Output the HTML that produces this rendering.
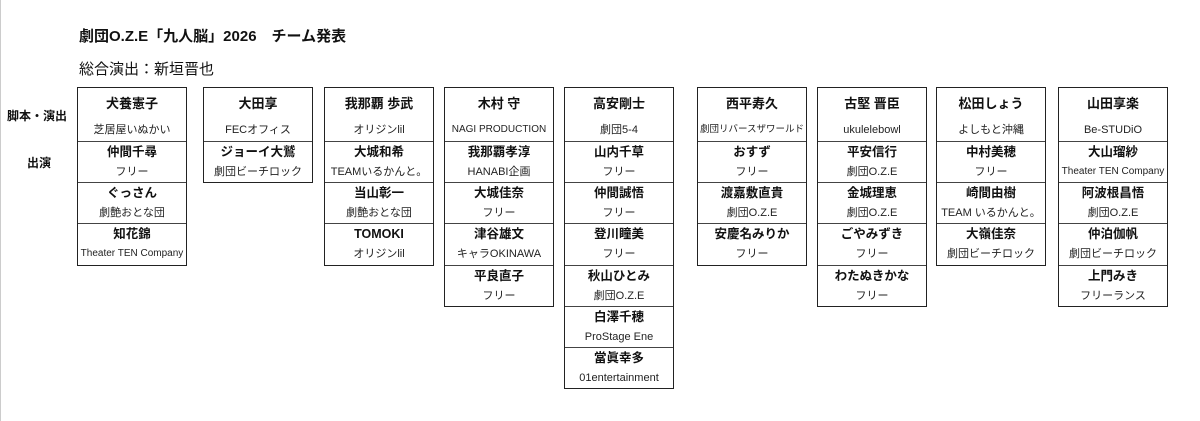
<!DOCTYPE html>
<html><head><meta charset="utf-8"><style>
body{margin:0;width:1200px;height:421px;background:#fff;position:relative;overflow:hidden;font-family:"Liberation Sans","Noto Sans CJK JP",sans-serif;color:#111;}
.edge{position:absolute;left:0;top:0;width:1px;height:421px;background:#ccc;}
.t{position:absolute;left:79px;top:25px;font-size:15px;font-weight:bold;}
.s{position:absolute;left:79px;top:58px;font-size:15px;}
.l{position:absolute;font-size:12px;font-weight:bold;}
.b{position:absolute;top:87px;width:108px;border:1.5px solid #222;box-sizing:content-box;}
.h{height:53px;position:relative;border-bottom:1px solid #444;}
.r{height:40.2px;position:relative;border-bottom:1px solid #444;}
.r:last-child{border-bottom:none;}
.n{position:absolute;left:0;right:0;text-align:center;font-weight:bold;font-size:12.5px;white-space:nowrap;line-height:16px;}
.a{position:absolute;left:0;right:0;text-align:center;font-size:11px;color:#222;white-space:nowrap;line-height:16px;}
.h .n{top:8px;font-size:13px;}
.h .a{top:34px;}
.r .n{top:2px;}
.r .a{top:22px;}
</style></head><body>
<div class="edge"></div>
<div class="t">劇団O.Z.E「九人脳」2026　チーム発表</div>
<div class="s">総合演出：新垣晋也</div>
<div class="l" style="left:7px;top:107px;">脚本・演出</div>
<div class="l" style="left:27px;top:154px;">出演</div>

<div class="b" style="left:77px"><div class="h"><div class="n">犬養憲子</div><div class="a">芝居屋いぬかい</div></div>
<div class="r"><div class="n">仲間千尋</div><div class="a">フリー</div></div>
<div class="r"><div class="n">ぐっさん</div><div class="a">劇艶おとな団</div></div>
<div class="r"><div class="n">知花錦</div><div class="a" style="font-size:10px">Theater TEN Company</div></div></div>

<div class="b" style="left:203px"><div class="h"><div class="n">大田享</div><div class="a">FECオフィス</div></div>
<div class="r"><div class="n">ジョーイ大鷲</div><div class="a">劇団ビーチロック</div></div></div>

<div class="b" style="left:324px"><div class="h"><div class="n">我那覇 歩武</div><div class="a">オリジンlil</div></div>
<div class="r"><div class="n">大城和希</div><div class="a">TEAMいるかんと。</div></div>
<div class="r"><div class="n">当山彰一</div><div class="a">劇艶おとな団</div></div>
<div class="r"><div class="n">TOMOKI</div><div class="a">オリジンlil</div></div></div>

<div class="b" style="left:444px"><div class="h"><div class="n">木村 守</div><div class="a" style="font-size:10px">NAGI PRODUCTION</div></div>
<div class="r"><div class="n">我那覇孝淳</div><div class="a">HANABI企画</div></div>
<div class="r"><div class="n">大城佳奈</div><div class="a">フリー</div></div>
<div class="r"><div class="n">津谷雄文</div><div class="a">キャラOKINAWA</div></div>
<div class="r"><div class="n">平良直子</div><div class="a">フリー</div></div></div>

<div class="b" style="left:564px"><div class="h"><div class="n">高安剛士</div><div class="a">劇団5-4</div></div>
<div class="r"><div class="n">山内千草</div><div class="a">フリー</div></div>
<div class="r"><div class="n">仲間誠悟</div><div class="a">フリー</div></div>
<div class="r"><div class="n">登川瞳美</div><div class="a">フリー</div></div>
<div class="r"><div class="n">秋山ひとみ</div><div class="a">劇団O.Z.E</div></div>
<div class="r"><div class="n">白澤千穂</div><div class="a">ProStage Ene</div></div>
<div class="r"><div class="n">當眞幸多</div><div class="a">01entertainment</div></div></div>

<div class="b" style="left:697px"><div class="h"><div class="n">西平寿久</div><div class="a" style="font-size:9.5px">劇団リバースザワールド</div></div>
<div class="r"><div class="n">おすず</div><div class="a">フリー</div></div>
<div class="r"><div class="n">渡嘉敷直貴</div><div class="a">劇団O.Z.E</div></div>
<div class="r"><div class="n">安慶名みりか</div><div class="a">フリー</div></div></div>

<div class="b" style="left:817px"><div class="h"><div class="n">古堅 晋臣</div><div class="a">ukulelebowl</div></div>
<div class="r"><div class="n">平安信行</div><div class="a">劇団O.Z.E</div></div>
<div class="r"><div class="n">金城理恵</div><div class="a">劇団O.Z.E</div></div>
<div class="r"><div class="n">ごやみずき</div><div class="a">フリー</div></div>
<div class="r"><div class="n">わたぬきかな</div><div class="a">フリー</div></div></div>

<div class="b" style="left:936px"><div class="h"><div class="n">松田しょう</div><div class="a">よしもと沖縄</div></div>
<div class="r"><div class="n">中村美穂</div><div class="a">フリー</div></div>
<div class="r"><div class="n">崎間由樹</div><div class="a">TEAM いるかんと。</div></div>
<div class="r"><div class="n">大嶺佳奈</div><div class="a">劇団ビーチロック</div></div></div>

<div class="b" style="left:1058px"><div class="h"><div class="n">山田享楽</div><div class="a">Be-STUDiO</div></div>
<div class="r"><div class="n">大山瑠紗</div><div class="a" style="font-size:10px">Theater TEN Company</div></div>
<div class="r"><div class="n">阿波根昌悟</div><div class="a">劇団O.Z.E</div></div>
<div class="r"><div class="n">仲泊伽帆</div><div class="a">劇団ビーチロック</div></div>
<div class="r"><div class="n">上門みき</div><div class="a">フリーランス</div></div></div>
</body></html>
